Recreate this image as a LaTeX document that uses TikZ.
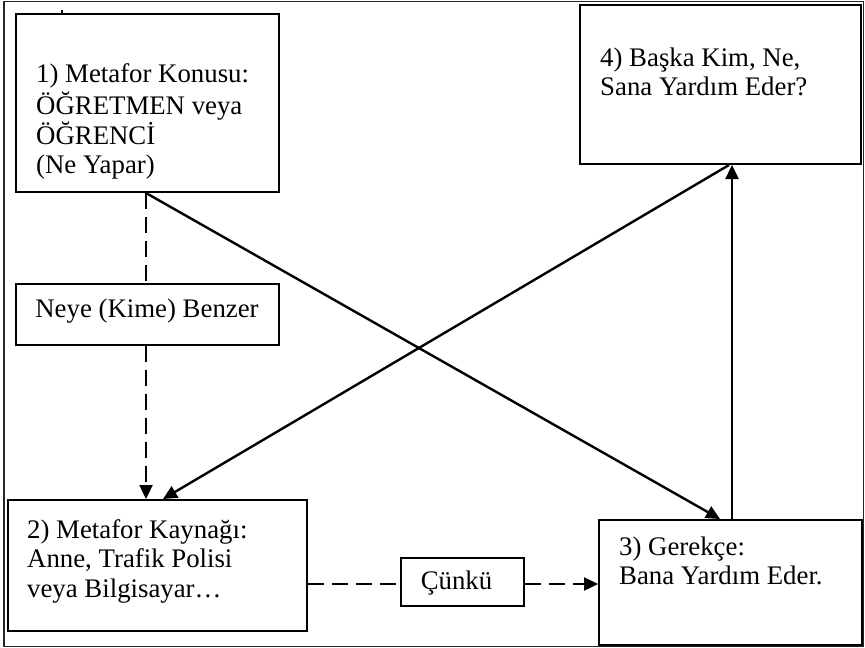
\documentclass[tikz,border=0pt]{standalone}
\usepackage{fontspec}
\setmainfont{Liberation Serif}
\usetikzlibrary{arrows.meta}
\begin{document}
\begin{tikzpicture}[x=1pt,y=-1pt,
  box/.style={draw, line width=2pt, rectangle, anchor=north west, inner sep=0pt},
  txt/.style={anchor=north west, inner sep=0pt, align=left, font=\fontsize{26.8}{29.6}\selectfont},
  ltxt/.style={anchor=base, inner sep=0pt, font=\fontsize{26.8}{29.6}\selectfont},
  conn/.style={line width=2.4pt},
  dsh/.style={conn, dash pattern=on 16pt off 8pt},
  tip/.style={-{Triangle[length=14pt,width=13pt]}}]
\useasboundingbox (0,0) rectangle (865,648);
% outer frame
\draw[line width=1.5pt, black!85] (4,1.5) rectangle (863.5,646.5);
\draw[line width=1.2pt] (62,9.5) -- (62,13);
% boxes
\node[box, minimum width=263pt, minimum height=178pt] (b1) at (15,13) {};
\node[box, minimum width=281pt, minimum height=159pt] (b4) at (579,4) {};
\node[box, minimum width=299pt, minimum height=131pt] (b2) at (7,499) {};
\node[box, minimum width=263pt, minimum height=125pt] (b3) at (598,519) {};
\node[box, minimum width=263pt, minimum height=61pt] (nb) at (15,283) {};
\node[box, minimum width=123pt, minimum height=48pt] (cb) at (400,557) {};
% texts
\node[txt] (t1) at (36,61.3) {\strut 1) Metafor Konusu:\\ÖĞRETMEN veya\\ÖĞRENCİ\\(Ne Yapar)};
\node[txt] (t4) at (600,45.3) {\strut 4) Başka Kim, Ne,\\Sana Yardım Eder?};
\node[txt] (t2) at (27,517.3) {\strut 2) Metafor Kaynağı:\\Anne, Trafik Polisi\\veya Bilgisayar…};
\node[txt] (t3) at (619,534.3) {\strut 3) Gerekçe:\\Bana Yardım Eder.};
\node[ltxt] (tn) at (147,317) {Neye (Kime) Benzer};
\node[ltxt] (tc) at (456.5,589) {Çünkü};
% connectors
\draw[dsh] (146,0 |- b1.south) -- (146,0 |- nb.north);
\draw[dsh,tip] (146,0 |- nb.south) -- (146,0 |- b2.north);
\draw[conn,tip] (146,0 |- b1.south) -- (720,0 |- b3.north);
\draw[conn,tip] (729,0 |- b4.south) -- (163,0 |- b2.north);
\draw[conn,tip] (732,0 |- b3.north) -- (732,0 |- b4.south);
\draw[dsh] (b2.east |- 0,584) -- (cb.west |- 0,584);
\draw[dsh,tip] (cb.east |- 0,584) -- (b3.west |- 0,584);
\end{tikzpicture}
\end{document}
